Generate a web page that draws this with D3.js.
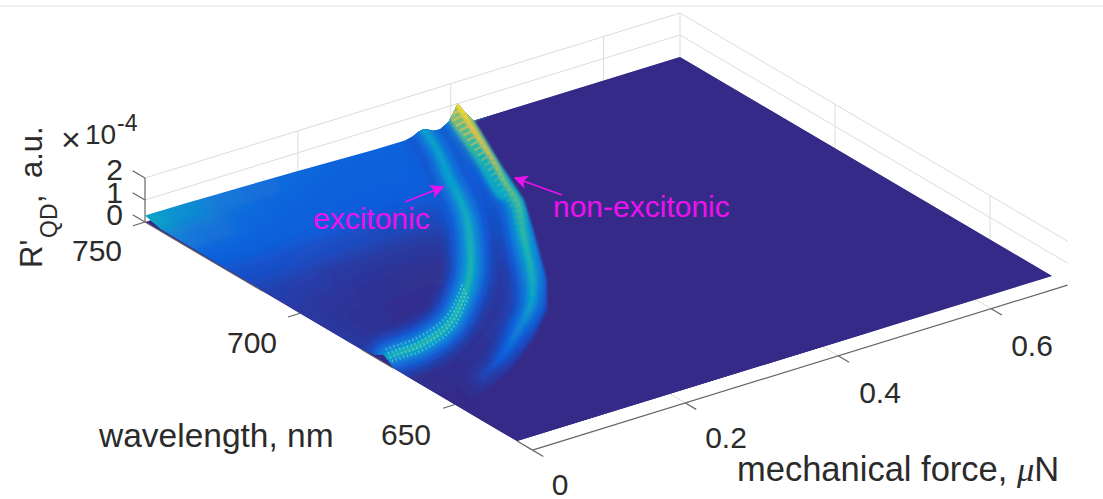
<!DOCTYPE html>
<meta charset="utf-8">
<head>
<style>
body { margin: 0; background: #fff; }
svg { display: block; }
text { font-family: "Liberation Sans", Arial, sans-serif; fill: #2b2b2b; }
.note { fill: #ee11ee; font-size: 30px; }
</style>
</head>
<body>
<svg width="1103" height="499"></svg>
<script src="https://d3js.org/d3.v7.min.js"></script>
<script>
// axis ticks
var forceTicks = [0, 0.2, 0.4, 0.6];
var waveTicks = [750, 700, 650];
var zTicks = [0, 1, 2];

// broad background of the surface, value (x10^-4) per wavelength row / force column
var gridForce = [0, 0.05, 0.1, 0.15, 0.2, 0.25, 0.3, 0.35, 0.4, 0.45];
var gridWave = [750, 740, 730, 720, 710, 700, 690, 680, 670, 660, 650, 640, 630];
var gridValues = [
  [.32, .24, .18, .15, .13, .12, .12, .12, .10, 0],
  [.19, .16, .13, .12, .115, .11, .11, .12, .05, 0],
  [.115, .115, .11, .105, .10, .10, .11, .09, 0, 0],
  [.075, .075, .07, .065, .06, .065, .08, .07, 0, 0],
  [.045, .04, .03, .025, .025, .035, .06, .04, 0, 0],
  [.03, .022, .016, .012, .012, .04, .04, 0, 0, 0],
  [.025, .015, .01, .01, .03, .03, .015, 0, 0, 0],
  [.03, .01, .01, .02, .03, .02, 0, 0, 0, 0],
  [.02, .015, .015, .02, .01, 0, 0, 0, 0, 0],
  [.005, .01, .01, .01, 0, 0, 0, 0, 0, 0],
  [0, .005, .005, 0, 0, 0, 0, 0, 0, 0],
  [0, 0, 0, 0, 0, 0, 0, 0, 0, 0],
  [0, 0, 0, 0, 0, 0, 0, 0, 0, 0]
];

// excitonic ridge
var excForce = [.365, .346, .313, .292, .268, .234, .193, .147, .095, .040, .017, 0];
var excWave = [750, 741, 728.7, 720.3, 712.2, 702.8, 692.7, 683.8, 675.9, 672, 671.9, 672];
var excValue = [.30, .30, .31, .33, .35, .37, .39, .39, .39, .39, .38, .33];

// non-excitonic ridge
var nonForce = [.410, .396, .369, .350, .332, .296, .237, .199, .153, .102, .065];
var nonWave = [750, 742.9, 728.7, 720.3, 711.8, 701.1, 683.6, 674.8, 667.7, 660.7, 657];
var nonValue = [.95, .80, .60, .52, .47, .42, .36, .30, .20, .11, .05];

// where the glow right of the ridges stops
var glowForce = [.431, .391, .358, .32, .262, .218, .164, .097, .029, 0];
var glowWave = [750, 732, 716, 703.5, 685, 674, 665, 656, 650, 645];

// outline of the surface along the two raised edges
var edgeForce = [0, .05, .1, .2, .3, .34, .35, .358, .364, .37, .378, .386, .397, .403, .409, .415, .42, .43];
var edgeValue = [.30, .28, .245, .18, .07, .06, .14, .28, .32, .24, .10, .08, .30, .63, 1.0, .70, .45, 0];
var frontWave = [750, 745, 730, 720, 710, 700, 680, 676, 673, 670, 665];
var frontValue = [.30, .10, .07, .05, .03, 0, 0, .10, .35, .05, 0];

var parulaStops = [0, .1, .2, .3, .4, .5, .6, .75, 1];
var parulaColors = ["#352a87", "#0f5cdd", "#1481d6", "#06a4ca", "#2eb7a4", "#87bf77", "#d1bb59", "#f2c93a", "#f9fb0e"];

var svg = d3.select("svg");
var color = d3.scaleLinear().domain(parulaStops).range(parulaColors).clamp(true);

// oblique projection of the box, one scale per screen direction
var fx = d3.scaleLinear().domain([0, 0.7]).range([0, 535]);
var fy = d3.scaleLinear().domain([0, 0.7]).range([0, -165]);
var wx = d3.scaleLinear().domain([750, 630]).range([145, 517]);
var wy = d3.scaleLinear().domain([750, 630]).range([222, 441]);
var zy = d3.scaleLinear().domain([0, 2]).range([0, -44]);

function project(f, w, z) {
  return [fx(f) + wx(w), fy(f) + wy(w) + zy(z || 0)];
}
var line = d3.line();
var smoothLine = d3.line().curve(d3.curveCatmullRom);

var defs = svg.append("defs");
function blur(id, s) {
  defs.append("filter").attr("id", id)
    .attr("filterUnits", "userSpaceOnUse")
    .attr("x", 0).attr("y", 0).attr("width", 1103).attr("height", 499)
    .append("feGaussianBlur").attr("stdDeviation", s);
}
blur("b8", 8); blur("b6", 6); blur("b3", 3); blur("b2", 2); blur("b15", 1.5); blur("b1", 1); blur("b07", 0.7);

// faint rule at the top of the picture
svg.append("line").attr("x1", 0).attr("x2", 1103).attr("y1", 6).attr("y2", 6)
  .attr("stroke", "#e4e4e4");

// walls and floor grid
var gridLines = [];
zTicks.slice(1).forEach(function(z) {
  gridLines.push([project(0, 750, z), project(0.7, 750, z), project(0.7, 625, z)]);
});
forceTicks.slice(1).forEach(function(f) {
  gridLines.push([project(f, 750, 2), project(f, 750, 0), project(f, 625, 0)]);
});
waveTicks.slice(1).forEach(function(w) {
  gridLines.push([project(0.7, w, 2), project(0.7, w, 0), project(0, w, 0)]);
});
gridLines.push([project(0.7, 750, 2), project(0.7, 750, 0)]);
svg.append("g").selectAll("path").data(gridLines).enter().append("path")
  .attr("d", line).attr("fill", "none").attr("stroke", "#dcdcdc").attr("stroke-width", 1);

// floor of the surface
var plane = [project(0, 750), project(0.7, 750), project(0.7, 630), project(0, 630)];
svg.append("path").attr("d", line(plane) + "Z").attr("fill", color(0));

// outline of the raised surface
var outline = edgeForce.map(function(f, i) { return project(f, 750, edgeValue[i]); })
  .concat([project(0.7, 750), project(0.7, 630), project(0, 630)])
  .concat(frontWave.map(function(w, i) { return project(0, w, frontValue[i]); }).reverse());
defs.append("clipPath").attr("id", "surface").append("path").attr("d", line(outline) + "Z");
var surface = svg.append("g").attr("clip-path", "url(#surface)");

// background cells, border cells run past the edge so the blur stays even there
var cells = [];
gridValues.forEach(function(row, j) {
  row.forEach(function(v, i) {
    var df = 0.025, dw = 5;
    var f0 = i == 0 ? -0.2 : gridForce[i] - df, f1 = gridForce[i] + df;
    var w0 = j == 0 ? 790 : gridWave[j] + dw, w1 = gridWave[j] - dw;
    cells.push({ v: v, p: [project(f0, w0), project(f1, w0), project(f1, w1), project(f0, w1)] });
  });
});
surface.append("g").attr("filter", "url(#b8)").selectAll("path").data(cells).enter().append("path")
  .attr("d", function(d) { return line(d.p) + "Z"; })
  .attr("fill", function(d) { return color(d.v); })
  .attr("stroke", function(d) { return color(d.v); });

// runs a curve through the read points so the stroke can change colour along it
function ridgeStroke(fs, ws, vs) {
  var knots = fs.map(function(f, i) { return project(f, ws[i], vs[i]); });
  var chord = [0];
  d3.pairs(knots).forEach(function(s, i) {
    chord.push(chord[i] + Math.hypot(s[1][0] - s[0][0], s[1][1] - s[0][1]));
  });
  var valueAt = d3.scaleLinear().domain(chord).range(vs);
  var tmp = defs.append("path").attr("d", smoothLine(knots)).node();
  var total = tmp.getTotalLength();
  var out = [];
  for (var l = 0; l <= total; l += 2) {
    var pt = tmp.getPointAtLength(l);
    out.push({ p: [pt.x, pt.y], v: valueAt(l / total * chord[chord.length - 1]) });
  }
  return out;
}

function drawRidge(parent, pts, k, width, filter, shift) {
  var g = parent.append("g").attr("fill", "none").attr("stroke-linecap", "round");
  if (filter) g.attr("filter", "url(#" + filter + ")");
  if (shift) g.attr("transform", "translate(" + shift + ")");
  g.selectAll("path").data(d3.pairs(pts)).enter().append("path")
    .attr("d", function(s) { return line([s[0].p, s[1].p]); })
    .attr("stroke", function(s) { return color(k * s[0].v); })
    .attr("stroke-width", width);
}

var exc = ridgeStroke(excForce, excWave, excValue);
var non = ridgeStroke(nonForce, nonWave, nonValue);

// glow around the ridges, widest and darkest first
[exc, non].forEach(function(pts) {
  drawRidge(surface, pts, 0.27, 40, "b6");
  drawRidge(surface, pts, 0.52, 24, "b3");
  drawRidge(surface, pts, 0.76, 12, "b2");
});
drawRidge(surface, non.slice(0, 50), 0.6, 20, "b2", "-5,1");

// navy floor right of the glow
var mask = glowForce.map(function(f, i) { return project(f, glowWave[i]); })
  .concat([project(0, 630), project(0.7, 630), project(0.7, 750)]);
surface.append("path").attr("d", line(mask) + "Z").attr("fill", color(0)).attr("filter", "url(#b1)");

// crests
drawRidge(surface, exc, 0.95, 5, "b15");
drawRidge(surface, non, 0.95, 5, "b15");

// mesh rows show as scallops where the non-excitonic crest is high
var forceDir = [-0.955, 0.295];
var scallops = non.filter(function(d, i) { return i % 3 == 0 && i < 72; });
surface.append("g").attr("filter", "url(#b07)").attr("fill", "none").attr("stroke-linecap", "round")
  .selectAll("path").data(scallops).enter().append("path")
  .attr("d", function(d) {
    var len = 13 * d.v;
    return line([d.p, [d.p[0] + len * forceDir[0], d.p[1] + len * forceDir[1] + 2]]);
  })
  .attr("stroke", function(d) { return color(d.v * 0.78); })
  .attr("stroke-width", 2.2)
  .attr("opacity", 0.75);

// and as a fine hatch where the excitonic crest runs down to zero force
var hatchPts = exc.slice(Math.floor(exc.length * 0.62));
surface.append("g").attr("filter", "url(#b07)").attr("fill", "none")
  .selectAll("path").data(hatchPts.filter(function(d, i) { return i % 2 == 0; })).enter().append("path")
  .attr("d", function(d, i) {
    return line([[d.p[0] - 4, d.p[1] - 8], [d.p[0] + 4, d.p[1] + 8]]);
  })
  .attr("stroke", "#a4ecea").attr("stroke-width", 1.3).attr("stroke-dasharray", "2.5 2")
  .attr("opacity", 0.45);

// axes, on top of the surface edge
var axisColor = "#666";
var axes = svg.append("g").attr("fill", "none").attr("stroke", axisColor).attr("stroke-width", 1.2);
axes.append("path").attr("d", line([project(0, 625), project(0.7, 625)]));
axes.selectAll(".ft").data(forceTicks).enter().append("path")
  .attr("d", function(f) { return line([project(f, 625), project(f, 621.5)]); });
axes.selectAll(".wt").data(waveTicks).enter().append("path")
  .attr("d", function(w) { return line([project(0, w), project(-0.0157, w)]); });
axes.append("path").attr("d", line([project(0, 750, 0), project(0, 750, 2)]));
axes.selectAll(".zt").data(zTicks).enter().append("path")
  .attr("d", function(z) { return line([project(0, 750, z), project(0, 754, z)]); });
// the parts of the wavelength axis that are not hidden by the surface
[[750, 712], [680, 670], [630, 625]].forEach(function(s) {
  axes.append("path").attr("d", line([project(0, s[0]), project(0, s[1])]));
});

// tick labels
var labels = svg.append("g").attr("font-size", 30);
var forceLabelAt = { 0: [560, 484], 0.2: [726, 437], 0.4: [880, 392], 0.6: [1032, 345] };
labels.selectAll(".fl").data(forceTicks).enter().append("text")
  .attr("text-anchor", "middle").attr("dominant-baseline", "central")
  .attr("x", function(f) { return forceLabelAt[f][0]; })
  .attr("y", function(f) { return forceLabelAt[f][1]; })
  .text(function(f) { return f; });
var waveLabelAt = { 750: [97, 250], 700: [252, 342], 650: [406, 434] };
labels.selectAll(".wl").data(waveTicks).enter().append("text")
  .attr("text-anchor", "middle").attr("dominant-baseline", "central")
  .attr("x", function(w) { return waveLabelAt[w][0]; })
  .attr("y", function(w) { return waveLabelAt[w][1]; })
  .text(function(w) { return w; });
var zLabelY = { 0: 214, 1: 192, 2: 169 };
labels.selectAll(".zl").data(zTicks).enter().append("text")
  .attr("text-anchor", "end").attr("dominant-baseline", "central")
  .attr("x", 123).attr("y", function(z) { return zLabelY[z]; })
  .text(function(z) { return z; });

// exponent
svg.append("text").attr("x", 61).attr("y", 151).attr("font-size", 34).attr("font-weight", 300).text("\u00d7");
svg.append("text").attr("x", 85).attr("y", 144).attr("font-size", 28).text("10");
svg.append("text").attr("x", 117).attr("y", 131).attr("font-size", 23).text("-4");

// axis titles
svg.append("text").attr("x", 99).attr("y", 447).attr("font-size", 33.5).text("wavelength, nm");
var forceTitle = svg.append("text").attr("x", 737).attr("y", 481).attr("font-size", 34.5);
forceTitle.append("tspan").text("mechanical force, ");
forceTitle.append("tspan").attr("font-family", "Liberation Serif").attr("font-style", "italic").text("\u03bc");
forceTitle.append("tspan").text("N");

var zTitle = svg.append("text").attr("transform", "translate(42,268) rotate(-90)").attr("font-size", 31);
zTitle.append("tspan").attr("x", 0).text("R'");
zTitle.append("tspan").attr("x", 30).attr("dy", 15).attr("font-size", 23).text("QD");
zTitle.append("tspan").attr("x", 65).attr("dy", -15).text(",");
zTitle.append("tspan").attr("x", 90).text("a.u.");

// annotations
defs.append("marker").attr("id", "head").attr("viewBox", "0 0 10 10")
  .attr("refX", 9).attr("refY", 5).attr("markerWidth", 22).attr("markerHeight", 14)
  .attr("markerUnits", "userSpaceOnUse").attr("orient", "auto")
  .append("path").attr("d", "M0,0L10,5L0,10L2.5,5Z").attr("fill", "#ee11ee");
var notes = [
  { text: "excitonic", x: 313, y: 229, from: [405, 202], to: [443, 187] },
  { text: "non-excitonic", x: 553, y: 217, from: [562, 195], to: [515, 178] }
];
svg.selectAll(".note").data(notes).enter().append("text").attr("class", "note")
  .attr("x", function(d) { return d.x; }).attr("y", function(d) { return d.y; })
  .text(function(d) { return d.text; });
svg.selectAll(".arrow").data(notes).enter().append("path")
  .attr("d", function(d) { return line([d.from, d.to]); })
  .attr("stroke", "#ee11ee").attr("stroke-width", 1.5).attr("fill", "none")
  .attr("marker-end", "url(#head)");
</script>
</body>
